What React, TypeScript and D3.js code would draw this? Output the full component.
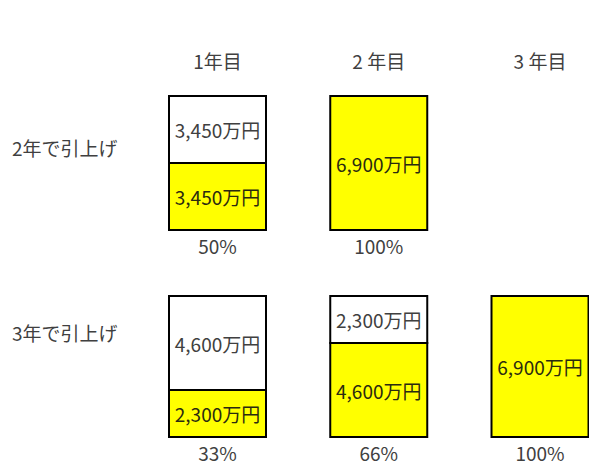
import React from "react";
import * as d3 from "d3";

const columns = ["1年目", "2 年目", "3 年目"];
const rowLabels = ["2年で引上げ", "3年で引上げ"];
const total = 6900;
// yellow (raised) part, white (remaining) part per row & column
const raisedRow1 = [3450, 6900];
const remainRow1 = [3450, 0];
const raisedRow2 = [2300, 4600, 6900];
const remainRow2 = [4600, 2300, 0];
const pctRow1 = ["50%", "100%"];
const pctRow2 = ["33%", "66%", "100%"];

const W = 589;
const H = 466;
const FONT = "'Noto Sans CJK JP', 'Noto Sans', sans-serif";
const TXT = "#404040";
const BOX_W = 97;
const FS = 19;

const fmt = (v: number) => d3.format(",")(v) + "万円";

const rows = [
  { label: rowLabels[0], raised: raisedRow1, remain: remainRow1, pct: pctRow1, top: 96, bottom: 230, labelY: 147, pctY: 245 },
  { label: rowLabels[1], raised: raisedRow2, remain: remainRow2, pct: pctRow2, top: 296, bottom: 437, labelY: 332, pctY: 452 },
];

export default function App() {
  const x = d3.scalePoint<string>().domain(columns).range([217.5, 540]);
  return (
    <svg width={W} height={H} style={{ position: "absolute", left: 0, top: 0, background: "#fff" }} fontFamily={FONT}>
      {columns.map((c) => (
        <text key={c} x={x(c)} y={60} textAnchor="middle" dominantBaseline="central" fontSize={FS} fill={TXT}>
          {c}
        </text>
      ))}
      {rows.map((r, ri) => {
        const y = d3.scaleLinear().domain([0, total]).range([r.bottom, r.top]);
        return (
          <g key={ri}>
            <text x={12} y={r.labelY} dominantBaseline="central" fontSize={FS} fill={TXT}>
              {r.label}
            </text>
            {r.raised.map((v, ci) => {
              const cx = x(columns[ci])!;
              const x0 = cx - BOX_W / 2;
              const rem = r.remain[ci];
              const yMid = y(v);
              return (
                <g key={ci}>
                  {rem > 0 && (
                    <rect x={x0} y={y(v + rem)} width={BOX_W} height={yMid - y(v + rem)} fill="#fff" stroke="#000" strokeWidth={2} />
                  )}
                  <rect x={x0} y={yMid} width={BOX_W} height={y(0) - yMid} fill="#ffff00" stroke="#000" strokeWidth={2} />
                  {rem > 0 && (
                    <text x={cx} y={(y(v + rem) + yMid) / 2} textAnchor="middle" dominantBaseline="central" fontSize={FS} fill={TXT}>
                      {fmt(rem)}
                    </text>
                  )}
                  <text x={cx} y={(yMid + y(0)) / 2} textAnchor="middle" dominantBaseline="central" fontSize={FS} fill="#2a2a10">
                    {fmt(v)}
                  </text>
                  <text x={cx} y={r.pctY} textAnchor="middle" dominantBaseline="central" fontSize={FS} fill={TXT}>
                    {r.pct[ci]}
                  </text>
                </g>
              );
            })}
          </g>
        );
      })}
    </svg>
  );
}
